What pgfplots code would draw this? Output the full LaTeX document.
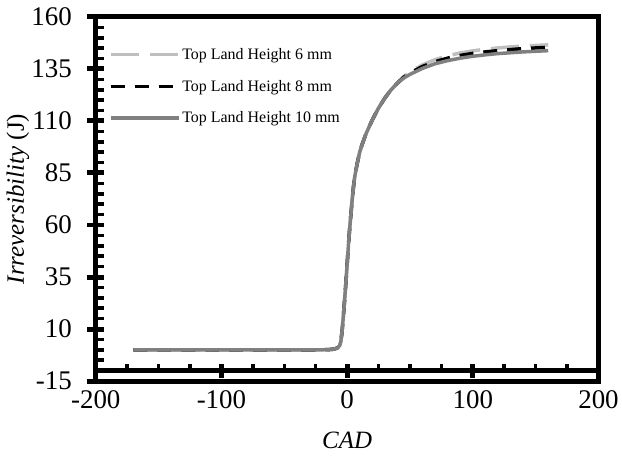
\documentclass[border=0pt]{standalone}
\usepackage{fontspec}
\setmainfont{Liberation Serif}
\usepackage{pgfplots}
\pgfplotsset{compat=1.18}
\definecolor{lgray}{RGB}{191,191,191}
\definecolor{mgray}{RGB}{128,128,128}
\pgfplotstableread{
x y
-170 0
-120 0
-60 0
-20 0
-12 0.2
-8 0.8
-6 2
-5 4
-4 9
-3 16
-2 24
-1 32
0 41
1 50
2 58
3 65
4 72
5 78
6 83
8 89.5
10 95
12 98.8
15 103.8
20 110.5
25 116.2
30 121
35 125
40 128.2
45 131.3
50 133.5
60 137
70 139.5
80 141.3
90 142.7
100 143.7
110 144.5
120 145.1
130 145.6
140 146
150 146.3
160 146.6
}\tsix
\pgfplotstableread{
x y
-170 0
-120 0
-60 0
-20 0
-12 0.2
-8 0.8
-6 2
-5 4
-4 9
-3 16
-2 24
-1 32
0 41
1 50
2 58
3 65
4 72
5 78
6 83
8 89.5
10 95
12 98.8
15 103.8
20 110.5
25 116.2
30 121
35 125
40 128.2
45 131
50 133
60 136.2
70 138.5
80 140.2
90 141.5
100 142.5
110 143.2
120 143.8
130 144.3
140 144.8
150 145.1
160 145.4
}\teight
\pgfplotstableread{
x y
-170 0
-120 0
-60 0
-20 0
-12 0.2
-8 0.8
-6 2
-5 4
-4 9
-3 16
-2 24
-1 32
0 41
1 50
2 58
3 65
4 72
5 78
6 83
8 89.5
10 95
12 98.8
15 103.8
20 110.5
25 116.2
30 121
35 125
40 128.2
45 130.6
50 132.4
60 135.3
70 137.5
80 139
90 140.2
100 141.1
110 141.8
120 142.4
130 142.8
140 143.2
150 143.5
160 143.8
}\tten
\begin{document}
\begin{tikzpicture}
\path (-96pt,-76pt) rectangle (526pt,382pt);
\begin{axis}[name=A, at={(0pt,0pt)}, anchor=south west,
  scale only axis, width=504pt, height=365pt,
  xmin=-200, xmax=200, ymin=-15, ymax=160,
  axis line style={line width=5pt, line join=miter},
  xtick=\empty,
  ytick={-15,10,35,60,85,110,135,160}, yticklabels={-15,10,35,60,85,110,135,160},
  ytick pos=left, minor y tick num=4,
  tick align=center, major tick length=17pt, minor tick length=8pt,
  major tick style={line width=5pt, black},
  minor tick style={line width=3.5pt, black, xshift=4pt},
  tick label style={font=\fontsize{27}{27}\selectfont},
  yticklabel style={xshift=-12pt},
  xlabel={\textit{CAD}}, ylabel={\textit{Irreversibility} (J)},
  every axis x label/.style={at={(axis description cs:0.5,-0.1616)}, anchor=center, font=\fontsize{25}{25}\selectfont},
  every axis y label/.style={at={(axis description cs:-0.1548,0.5)}, anchor=center, rotate=90, font=\fontsize{25}{25}\selectfont},
  legend style={at={(axis description cs:0.02,0.925)}, anchor=north west, draw=none, fill=none,
    font=\fontsize{16}{16}\selectfont, row sep=15pt, cells={anchor=west}},
  legend image code/.code={\draw[#1] (0pt,0pt) -- (68pt,0pt);},
]
\addplot[lgray, line width=3.5pt, dash pattern=on 28pt off 11pt, line join=round] table {\tsix};
\addlegendentry{Top Land Height 6 mm}
\addplot[black, line width=3.5pt, dash pattern=on 14pt off 10pt, line join=round] table {\teight};
\addlegendentry{Top Land Height 8 mm}
\addplot[mgray, line width=3.5pt, line join=round] table {\tten};
\addlegendentry{Top Land Height 10 mm}
\end{axis}
\begin{axis}[at={(A.south west)}, anchor=south west,
  scale only axis, width=504pt, height=365pt,
  xmin=-200, xmax=200, ymin=-15, ymax=160,
  axis x line*=bottom, axis y line=none,
  axis line style={draw=none},
  xtick={-200,-100,0,100,200}, xticklabels={-200,-100,0,100,200},
  major tick length=0pt, major tick style={draw=none},
  tick label style={font=\fontsize{27}{27}\selectfont},
  xticklabel style={yshift=-6pt},
]
\addplot[draw=none] coordinates {(0,0)};
\end{axis}
\begin{axis}[at={(A.north west)}, anchor=north west,
  scale only axis, width=504pt, height=354.571pt,
  xmin=-200, xmax=200, ymin=-10, ymax=160,
  axis x line*=bottom, axis y line=none,
  axis line style={line width=5pt},
  xtick={-200,-100,0,100,200}, xticklabels={}, minor x tick num=3,
  tick align=center, major tick length=14pt, minor tick length=7pt,
  major tick style={line width=5pt, black},
  minor tick style={line width=3.5pt, black, yshift=3.5pt},
]
\addplot[draw=none] coordinates {(0,0)};
\end{axis}
\end{tikzpicture}
\end{document}
